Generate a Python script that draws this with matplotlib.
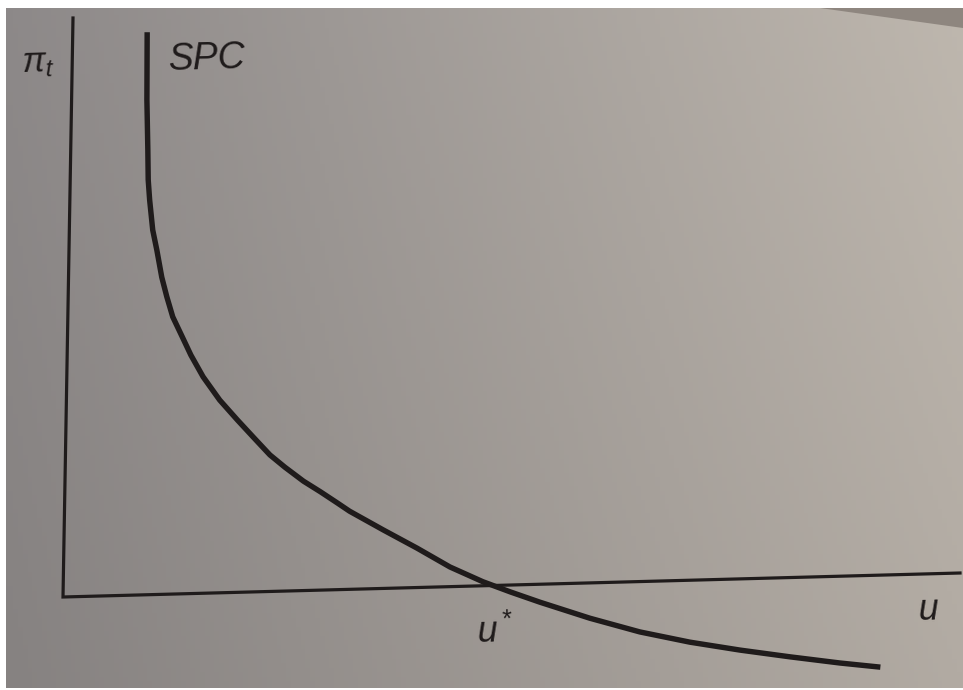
import numpy as np
import matplotlib
matplotlib.use('Agg')
import matplotlib.pyplot as plt
from matplotlib.transforms import Affine2D

plt.rcParams['mathtext.fontset'] = 'custom'
plt.rcParams['mathtext.it'] = 'Liberation Sans:italic'
plt.rcParams['mathtext.rm'] = 'Liberation Sans'

# curva SPC (u, pi), en unidades del grafico (ejes de 0 a 10)
u_spc = [0.83, 0.84, 0.86, 0.87, 0.89, 0.93, 0.98, 1.04, 1.10, 1.17, 1.28, 1.38,
         1.52, 1.71, 1.91, 2.10, 2.28, 2.45, 2.66, 2.85, 3.04, 3.18, 3.56, 3.94,
         4.31, 4.68, 4.99, 5.32, 5.88, 6.44, 7.00, 7.56, 8.12, 8.68, 9.13]
pi_spc = [9.72, 8.55, 7.69, 7.17, 6.82, 6.30, 5.95, 5.48, 5.14, 4.79, 4.44, 4.12,
          3.74, 3.33, 2.98, 2.66, 2.36, 2.14, 1.89, 1.70, 1.50, 1.35, 1.01, 0.68,
          0.34, 0.07, -0.12, -0.31, -0.61, -0.87, -1.07, -1.23, -1.37, -1.50, -1.59]

# ejes
u_max = 10
pi_max = 10

fig = plt.figure(figsize=(9.63, 6.9), dpi=100)
fig.patch.set_facecolor('white')

# fondo de papel fotografiado
bg = fig.add_axes([6 / 963, 2 / 690, 1 - 6 / 963, 1 - 10 / 690])
tl = np.array([141, 137, 137])
tr_ = np.array([190, 183, 174])
bl = np.array([134, 130, 129])
br = np.array([178, 171, 163])
sx = np.linspace(0, 1, 200)[None, :, None]
sy = np.linspace(0, 1, 150)[:, None, None]
grad = (1 - sy) * ((1 - sx) * tl + sx * tr_) + sy * ((1 - sx) * bl + sx * br)
bg.imshow(grad.astype(np.uint8), aspect='auto', interpolation='bilinear')
bg.axis('off')

ax = fig.add_axes([0, 0, 1, 1])
ax.set_xlim(0, 963)
ax.set_ylim(690, 0)
ax.axis('off')
ax.patch.set_alpha(0)

# esquina oscura arriba a la derecha (borde de la pagina)
ax.fill([820, 963, 963], [8, 8, 28], color='#8e867f', lw=0)

# la foto esta un poco inclinada
tilt = Affine2D(np.array([[89.7, 1.0, 63.0],
                          [-2.4, -57.9, 597.0],
                          [0.0, 0.0, 1.0]]))
trans = tilt + ax.transData

ink = '#1f1b1b'
ax.plot([0, 0, u_max], [pi_max, 0, 0], color=ink, lw=2.3, transform=trans,
        solid_joinstyle='miter')
ax.plot(u_spc, pi_spc, color=ink, lw=3.9, transform=trans, solid_capstyle='butt',
        solid_joinstyle='round')

ax.text(21, 72, r'$\pi_t$', fontsize=25, color=ink, va='baseline', rotation=1.5)
ax.text(168, 70, 'SPC', fontsize=27, color=ink, style='italic',
        family='Liberation Sans', va='baseline', rotation=1.5)
ax.text(476, 643, r'$u^*$', fontsize=26, color=ink, va='baseline', rotation=1.5)
ax.text(917, 620, r'$u$', fontsize=26, color=ink, va='baseline', rotation=1.5)

fig.savefig('out.png', dpi=100)
